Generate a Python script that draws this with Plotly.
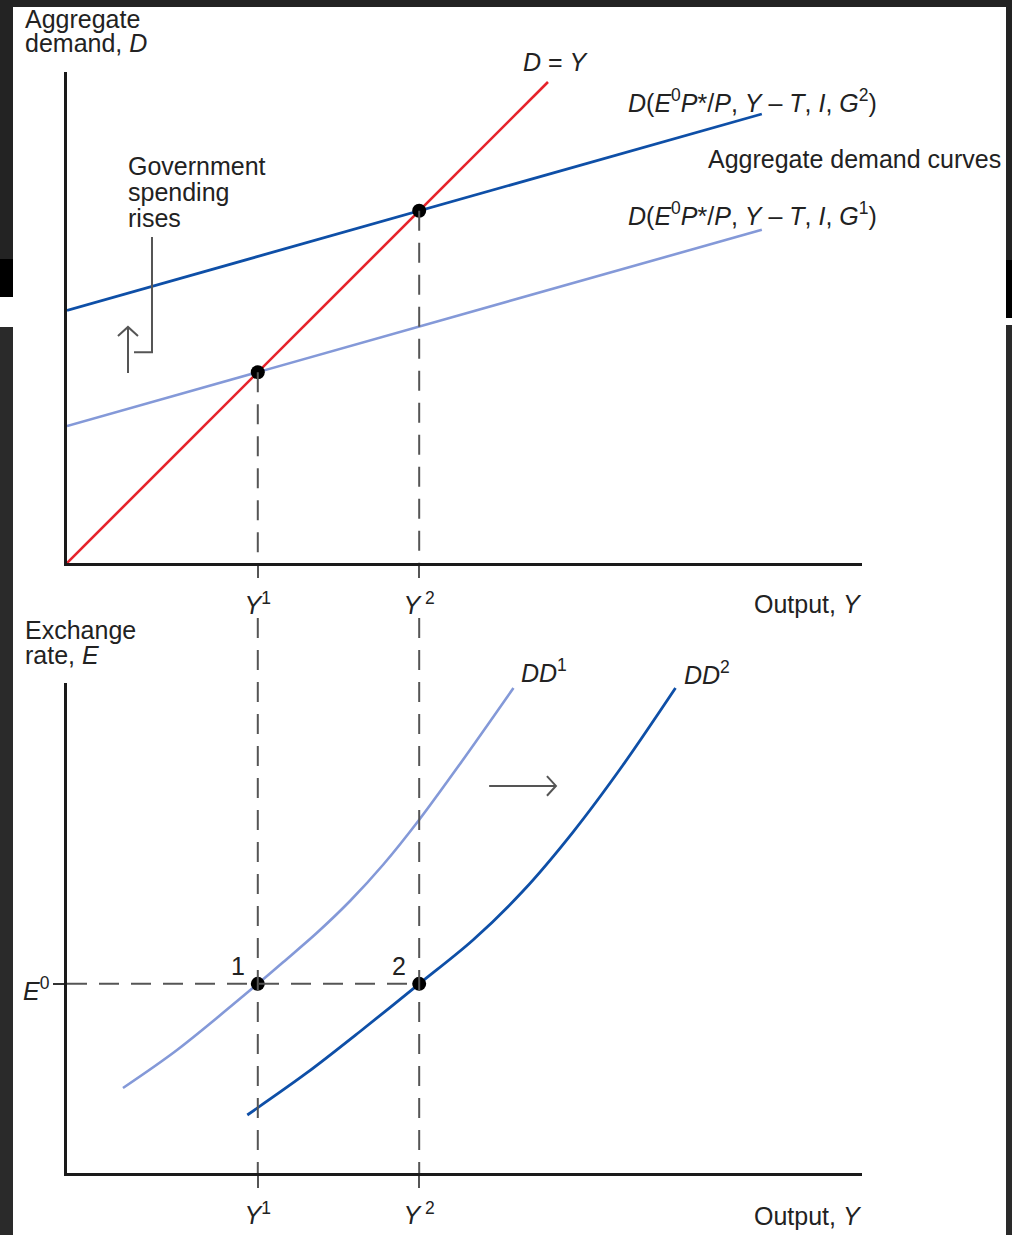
import base64
import plotly.graph_objects as go

W, H = 1012, 1235
FONT = "Liberation Sans, Arial, Helvetica, sans-serif"
TXT = "#222222"
RED = "#e6232b"
DARK = "#0e4fa7"
LIGHT = "#8499d8"
DASH_C = "#555555"

# ---------------- data ----------------
# Top panel: output Y (horizontal) vs aggregate demand D (vertical)
dy_x = [0.0, 60.5]            # D = Y 45-degree line
dy_D = [0.0, 60.5]
ad_x = [0.0, 87.4]            # aggregate demand curves
ad_G1 = [17.22, 41.92]
ad_G2 = [31.78, 56.48]
Y1, Y2 = 24.0, 44.3           # equilibrium outputs
eq_Y = [Y1, Y2]
eq_D = [Y1, Y2]

# Bottom panel: output Y vs exchange rate E
E0 = 38.6
dd1_x = [7.04, 13.84, 24.0, 27.21, 31.41, 35.60, 39.79, 44.28, 49.43, 56.16]
dd1_E = [17.35, 25.10, 38.6, 43.06, 48.98, 55.51, 62.96, 72.04, 83.47, 98.98]
dd2_x = [22.68, 30.15, 36.86, 44.3, 51.07, 57.36, 63.65, 69.94, 76.54]
dd2_E = [11.84, 20.41, 28.88, 38.6, 47.55, 57.55, 69.59, 83.27, 98.98]
eq_E = [E0, E0]

x_ticks = [Y1, Y2]
x_ticktext = ["<i>Y</i><sup>1</sup>", "<i>Y</i><sup> 2</sup>"]
e_label = "<i>E</i><sup>0</sup>"

# ---------------- figure ----------------
fig = go.Figure()

def line(x, y, color, width, xa="x", ya="y", shape="linear"):
    fig.add_trace(go.Scatter(x=x, y=y, mode="lines", xaxis=xa, yaxis=ya,
                             line=dict(color=color, width=width, shape=shape, smoothing=0.9),
                             hoverinfo="skip"))

line(ad_x, ad_G1, LIGHT, 2.6)
line(ad_x, ad_G2, DARK, 2.8)
line(dy_x, dy_D, RED, 2.6)
fig.add_trace(go.Scatter(x=eq_Y, y=eq_D, mode="markers", cliponaxis=False,
                         marker=dict(color="black", size=14), hoverinfo="skip"))

line(dd1_x, dd1_E, LIGHT, 2.6, "x2", "y2", "spline")
line(dd2_x, dd2_E, DARK, 2.8, "x2", "y2", "spline")
fig.add_trace(go.Scatter(x=eq_Y, y=eq_E, mode="markers", xaxis="x2", yaxis="y2",
                         cliponaxis=False, marker=dict(color="black", size=14),
                         hoverinfo="skip"))

# ---------------- axes ----------------
XD = [67 / W, 862 / W]
ax_common = dict(showgrid=False, zeroline=False, showline=True, linecolor="#1a1a1a",
                 linewidth=3, fixedrange=True)
tickfont = dict(size=25, color=TXT, family=FONT)

fig.update_layout(
    xaxis=dict(domain=XD, range=[0, 100], anchor="y", tickvals=x_ticks, ticktext=x_ticktext,
               ticks="outside", ticklen=12, tickwidth=2, tickcolor=DASH_C, tickfont=tickfont,
               ticklabelstandoff=6, **ax_common),
    yaxis=dict(domain=[(H - 563) / H, (H - 72) / H], range=[0, 491 / 7.95], anchor="x",
               showticklabels=False, ticks="", **ax_common),
    xaxis2=dict(domain=XD, range=[0, 100], anchor="y2", tickvals=x_ticks, ticktext=x_ticktext,
                ticks="outside", ticklen=12, tickwidth=2, tickcolor=DASH_C, tickfont=tickfont,
                ticklabelstandoff=6, **ax_common),
    yaxis2=dict(domain=[(H - 1173) / H, (H - 683) / H], range=[0, 100], anchor="x2",
                tickvals=[E0], showticklabels=False, ticks="outside", ticklen=11, tickwidth=2,
                tickcolor="#333333", **ax_common),
)

# ---------------- shapes ----------------
shapes = []
DASH = "20px,12px"
for yv in eq_Y:
    shapes.append(dict(type="line", xref="x", yref="y", x0=yv, x1=yv, y0=yv, y1=0,
                       line=dict(color=DASH_C, width=2, dash=DASH)))
    shapes.append(dict(type="line", xref="x2", yref="paper", x0=yv, x1=yv,
                       y0=(H - 618) / H, y1=(H - 1173) / H,
                       line=dict(color=DASH_C, width=2, dash=DASH)))
shapes.append(dict(type="line", xref="x2", yref="y2", x0=0, x1=Y2, y0=E0, y1=E0,
                   line=dict(color=DASH_C, width=2, dash=DASH)))

# "Government spending rises" leader line and up arrow (top-panel coordinates)
shapes.append(dict(type="path", xref="x", yref="y",
                   path="M 10.69,41.0 L 10.69,26.5 L 8.43,26.5",
                   line=dict(color=DASH_C, width=2)))
shapes.append(dict(type="path", xref="x", yref="y",
                   path="M 7.67,23.9 L 7.67,29.69", line=dict(color=DASH_C, width=2)))
shapes.append(dict(type="path", xref="x", yref="y",
                   path="M 6.41,28.56 L 7.67,29.69 L 8.93,28.56",
                   line=dict(color=DASH_C, width=2)))
# right arrow (bottom-panel coordinates)
shapes.append(dict(type="path", xref="x2", yref="y2",
                   path="M 53.1,79.0 L 61.5,79.0", line=dict(color=DASH_C, width=2)))
shapes.append(dict(type="path", xref="x2", yref="y2",
                   path="M 60.37,81.0 L 61.5,79.0 L 60.37,77.0",
                   line=dict(color=DASH_C, width=2)))

# dark frame around the picture
def prect(x0, y0, x1, y1, color):
    return dict(type="rect", xref="paper", yref="paper", x0=x0 / W, x1=x1 / W,
                y0=1 - y0 / H, y1=1 - y1 / H, fillcolor=color, line=dict(width=0),
                layer="above")

shapes += [
    prect(0, 0, W, 7, "#232323"),
    prect(0, 0, 13, 259, "#232323"),
    prect(0, 259, 13, 297, "#000000"),
    prect(1006, 0, W, 260, "#232323"),
    prect(1006, 260, W, 318, "#000000"),
    prect(0, 327, 13, H, "#2a2a2a"),
    prect(1006, 325, W, H, "#2a2a2a"),
]
fig.update_layout(shapes=shapes)


def hatch_svg(w, h):
    svg = (f'<svg xmlns="http://www.w3.org/2000/svg" width="{w}" height="{h}">'
           '<defs><pattern id="p" width="6" height="6" patternUnits="userSpaceOnUse" '
           'patternTransform="rotate(45)"><rect width="6" height="6" fill="#161616"/>'
           '<rect width="2" height="6" fill="#5c5c5c"/></pattern></defs>'
           f'<rect width="{w}" height="{h}" fill="url(#p)"/></svg>')
    return "data:image/svg+xml;base64," + base64.b64encode(svg.encode()).decode()


fig.update_layout(images=[
    dict(source=hatch_svg(13, H - 327), xref="paper", yref="paper", x=0, y=1 - 327 / H,
         sizex=13 / W, sizey=(H - 327) / H, xanchor="left", yanchor="top",
         sizing="stretch", layer="above"),
    dict(source=hatch_svg(6, H - 325), xref="paper", yref="paper", x=1006 / W,
         y=1 - 325 / H, sizex=6 / W, sizey=(H - 325) / H, xanchor="left", yanchor="top",
         sizing="stretch", layer="above"),
])

# ---------------- text ----------------
def ann(text, x, y, xanchor="left", size=25):
    return dict(text=text, x=x / W, y=1 - y / H, xref="paper", yref="paper",
                xanchor=xanchor, yanchor="middle", showarrow=False,
                font=dict(size=size, color=TXT, family=FONT))

G2_lab = "<i>D</i>(<i>E</i><sup>0</sup><i>P</i>*/<i>P</i>, <i>Y</i> – <i>T</i>, <i>I</i>, <i>G</i><sup>2</sup>)"
G1_lab = "<i>D</i>(<i>E</i><sup>0</sup><i>P</i>*/<i>P</i>, <i>Y</i> – <i>T</i>, <i>I</i>, <i>G</i><sup>1</sup>)"

annotations = [
    ann("Aggregate", 23, 19),
    ann("demand, <i>D</i>", 23, 43),
    ann("<i>D</i> = <i>Y</i>", 556, 62, "center"),
    ann(G2_lab, 626, 101),
    ann("Aggregate demand curves", 706, 159),
    ann(G1_lab, 626, 214),
    ann("Government", 126, 166),
    ann("spending", 126, 192),
    ann("rises", 126, 218),
    ann("Output, <i>Y</i>", 864, 604, "right"),
    ann("Exchange", 23, 630),
    ann("rate, <i>E</i>", 23, 655),
    ann("<i>DD</i><sup>1</sup>", 519, 671),
    ann("<i>DD</i><sup>2</sup>", 682, 673),
    ann("Output, <i>Y</i>", 864, 1216, "right"),
]
# E0 label next to its tick on the exchange-rate axis
annotations.append(dict(text=e_label, x=52 / W, y=E0, xref="paper", yref="y2",
                        xanchor="right", yanchor="middle", yshift=-5, showarrow=False,
                        font=dict(size=25, color=TXT, family=FONT)))
# equilibrium point numbers, attached to the bottom-panel data
for i, yv in enumerate(eq_Y):
    annotations.append(dict(text=str(i + 1), x=yv, y=E0, xref="x2", yref="y2",
                            xshift=-20, yshift=18, showarrow=False,
                            font=dict(size=25, color=TXT, family=FONT)))

fig.update_layout(
    annotations=annotations,
    width=W, height=H, autosize=False,
    margin=dict(l=0, r=0, t=0, b=0),
    paper_bgcolor="white", plot_bgcolor="rgba(0,0,0,0)",
    showlegend=False,
    font=dict(family=FONT, color=TXT),
)

fig.write_html("out.html", config={"displayModeBar": False},
               post_script="document.body.style.margin='0';document.body.style.padding='0';"
                           "document.body.style.overflow='hidden';")
